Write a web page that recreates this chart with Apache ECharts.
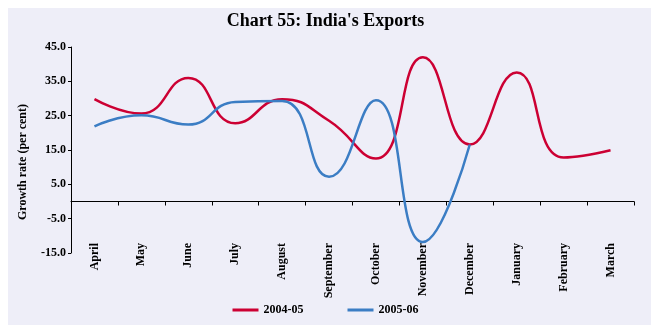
<!DOCTYPE html>
<html><head><meta charset="utf-8">
<script src="https://cdn.jsdelivr.net/npm/echarts@6/dist/echarts.min.js"></script>
<style>html,body{margin:0;padding:0;background:#fff}#c{width:651px;height:325px}</style>
</head><body><div id="c"></div>
<script>
const months = ['April','May','June','July','August','September','October','November','December','January','February','March'];
const s2004 = [29.8, 25.6, 36.0, 22.8, 29.8, 23.5, 12.5, 42.0, 16.6, 37.6, 12.8, 14.9];
const s2005 = [21.9, 25.1, 22.4, 29.0, 29.3, 7.2, 29.5, -11.8, 16.6, null, null, null];
const yTicks = {min: -15, max: 45, interval: 10};
const font = 'Liberation Serif';
const chart = echarts.init(document.getElementById('c'));
chart.setOption({
  animation: false,
  graphic: [
    {type:'rect', left:8, top:8, shape:{width:643, height:317}, style:{fill:'#EEEEF8'}, z:-10, silent:true},
    {type:'text', x:23, y:162, rotation:Math.PI/2, style:{text:'Growth rate (per cent)', font:'bold 12px "Liberation Serif"', fill:'#000', textAlign:'center', textVerticalAlign:'middle'}}
  ],
  title: {text:"Chart 55: India's Exports", left:'center', top:7, textStyle:{fontFamily:font, fontWeight:'bold', fontSize:18, color:'#000'}},
  grid: {left:71, right:17, top:47, bottom:72, containLabel:false},
  legend: {bottom:4, left:'center', itemWidth:26, itemHeight:3, itemGap:44, icon:'rect',
    textStyle:{fontFamily:font, fontWeight:'bold', fontSize:12, color:'#000'},
    data:['2004-05','2005-06']},
  xAxis: [
    {type:'category', data:months, boundaryGap:true, position:'bottom',
     axisLine:{show:false, onZero:false}, axisTick:{show:false},
     axisLabel:{rotate:90, margin:-10, interval:0, fontFamily:font, fontWeight:'bold', fontSize:12, color:'#000'}},
    {type:'category', data:months, boundaryGap:true, position:'bottom',
     axisLine:{show:true, onZero:true, lineStyle:{color:'#000', width:1}},
     axisTick:{show:true, interval:0, length:4, lineStyle:{color:'#000'}}, axisLabel:{show:false}}
  ],
  yAxis: {type:'value', min:yTicks.min, max:yTicks.max, interval:yTicks.interval,
    axisLine:{show:true, lineStyle:{color:'#000'}}, axisTick:{show:true, length:3, lineStyle:{color:'#000'}},
    splitLine:{show:false},
    axisLabel:{margin:5, formatter:v=>v.toFixed(1), fontFamily:font, fontWeight:'bold', fontSize:12, color:'#000'}},
  series: [
    {name:'2004-05', type:'line', data:s2004, smooth:0.5, showSymbol:false, symbol:'none', lineStyle:{color:'#CC0033', width:2.5}, itemStyle:{color:'#CC0033'}},
    {name:'2005-06', type:'line', data:s2005, smooth:0.5, showSymbol:false, symbol:'none', lineStyle:{color:'#3B7DC4', width:2.5}, itemStyle:{color:'#3B7DC4'}}
  ]
});
</script></body></html>
